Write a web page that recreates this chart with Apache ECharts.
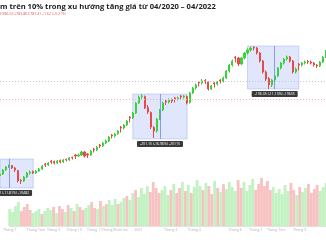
<!DOCTYPE html>
<html><head><meta charset="utf-8">
<script src="https://cdn.jsdelivr.net/npm/echarts@6/dist/echarts.min.js"></script>
<style>html,body{margin:0;padding:0;background:#fff}#c{width:326px;height:245px}</style>
</head><body><div id="c"></div>
<script>
const titleText = 'm trên 10% trong xu hướng tăng giá từ 04/2020 – 04/2022';
const quoteText = 'H786.55 L783.86 C787.41 +1.62 (+0.21%)';

// [open, close, low, high] per 3-session bucket
const ohlc = [
[818,824,814,828],[824,840,820,844],[840,852,836,856],[852,856,848,862],[858,848,844,860],
[848,840,832,852],[838,796,790,840],[798,796,784,804],[796,812,792,816],[812,828,808,832],
[828,832,822,838],[834,828,824,838],[828,836,824,840],[836,844,832,848],[844,856,840,860],
[864,860,852,868],[860,868,856,872],[876,872,864,880],[874,868,862,878],[868,876,864,880],
[878,872,866,882],[872,880,868,884],[882,880,874,886],[880,888,876,892],[890,888,882,894],
[900,896,884,904],[896,900,892,906],[900,912,896,916],[912,896,890,916],[904,900,888,908],
[900,916,896,920],[924,920,910,928],[920,932,916,936],[940,936,928,944],[936,948,932,952],
[948,956,944,962],[956,972,952,976],[980,976,966,984],[976,984,970,988],[986,996,980,1000],
[1012,1008,990,1016],[1008,1020,1002,1024],[1020,1036,1016,1040],[1052,1048,1030,1056],[1048,1068,1044,1072],
[1068,1108,1064,1112],[1108,1132,1104,1138],[1134,1136,1124,1144],[1134,1088,1084,1138],[1090,1072,1064,1100],
[1070,1012,1004,1074],[1010,996,968,1016],[996,1044,990,1048],[1044,1080,1040,1084],[1080,1108,1076,1114],
[1116,1112,1100,1120],[1112,1120,1106,1126],[1122,1116,1108,1126],[1128,1124,1110,1132],[1124,1128,1118,1134],
[1136,1132,1124,1140],[1132,1136,1126,1140],[1134,1108,1102,1138],[1110,1148,1106,1152],[1148,1168,1144,1172],
[1168,1180,1162,1186],[1192,1188,1174,1196],[1188,1196,1182,1204],[1198,1192,1184,1204],[1192,1164,1158,1194],
[1164,1176,1160,1180],[1188,1184,1170,1192],[1184,1192,1178,1196],[1200,1196,1186,1204],[1196,1208,1190,1214],
[1208,1236,1204,1240],[1236,1260,1230,1264],[1260,1276,1254,1282],[1292,1288,1270,1296],[1288,1264,1256,1292],
[1264,1288,1260,1292],[1288,1308,1282,1312],[1308,1320,1302,1326],[1320,1328,1314,1334],[1330,1328,1318,1336],
[1328,1308,1302,1332],[1308,1276,1270,1312],[1276,1232,1226,1280],[1232,1204,1196,1238],[1206,1180,1164,1212],
[1180,1200,1172,1204],[1200,1216,1194,1220],[1216,1248,1212,1252],[1248,1268,1242,1272],[1268,1284,1262,1288],
[1284,1292,1278,1298],[1292,1276,1270,1296],[1276,1232,1226,1280],[1232,1244,1226,1250],[1264,1260,1238,1268],
[1260,1268,1254,1272],[1268,1272,1262,1278],[1274,1272,1264,1280],[1272,1268,1262,1278],[1268,1260,1254,1272],
[1260,1256,1248,1264],[1256,1272,1252,1276],[1272,1292,1268,1296],[1292,1316,1288,1320]
];

const volume = [
340,280,400,480,300,380,440,320,260,300,340,240,300,360,
320,380,260,400,340,280,420,360,300,440,380,320,360,
420,480,360,340,500,400,440,520,420,540,440,480,560,
600,520,660,720,580,760,640,800,680,880,760,660,720,
800,620,720,840,660,760,880,700,820,660,780,920,800,
720,860,800,640,900,760,680,840,740,880,780,700,920,
760,880,700,820,940,720,840,960,800,900,720,780,660,
740,640,820,700,860,720,620,780,680,760,840,660,740,820,700,780,860
];

const tickIndex = [0, 9, 15, 22, 29, 36, 44, 55, 63, 77, 84, 91, 99];
const tickText = ['Tháng 7','Tháng Tám','Tháng 9','Tháng 10','Tháng 11','Tháng Mười hai','2021','Tháng 3','Tháng 4','Tháng 6','Tháng 7','Tháng Tám','Tháng 9'];

// drawdown ranges
const ddStart = [0, 44, 82];
const ddEnd = [11, 62, 99];
const ddLine = [3, 53, 91];
const ddHigh = [884, 1144, 1336];
const ddLow = [768, 964, 1164];
const ddLabel = ['-104.82 (-11.81%) -10482', '-201.15 (-16.96%) -20115', '-196.35 (-11.13%) -19635'];

const levelGray = 1196;
const levelRed = 1124;

const categories = ohlc.map((d, i) => String(i));
const UP = '#3ad13a', DOWN = '#e84a4a';

const chart = echarts.init(document.getElementById('c'), null, {renderer: 'canvas'});

const markAreaData = ddStart.map((s, k) => [
  {coord: [ddStart[k], ddHigh[k]]},
  {coord: [ddEnd[k], ddLow[k]]}
]);
const markLineData = ddStart.map((s, k) => [
  {coord: [ddLine[k], ddHigh[k]], label: {formatter: ddLabel[k]}},
  {coord: [ddLine[k], ddLow[k]]}
]);
markLineData.push({yAxis: levelGray, lineStyle: {color: '#c8c8c8', type: [1, 2], width: 1}, label: {show: false}});
markLineData.push({yAxis: levelRed, lineStyle: {color: '#f2b0b0', type: [1, 2], width: 1}, label: {show: false}});

const tickMap = {};
tickIndex.forEach((ix, k) => { tickMap[ix] = tickText[k]; });

chart.setOption({
  animation: false,
  backgroundColor: '#ffffff',
  title: [
    {text: titleText, left: 0, top: 3, padding: 0,
     textStyle: {fontSize: 7.6, fontWeight: 'bold', color: '#222', fontFamily: 'Open Sans'}},
    {text: quoteText, left: 0, top: 12, padding: 0,
     textStyle: {fontSize: 3.5, fontWeight: 'normal', color: '#e05555', fontFamily: 'Open Sans'}}
  ],
  grid: [
    {left: 0, right: 0, top: 20, bottom: 15},
    {left: 0, right: 0, top: 176, bottom: 19}
  ],
  xAxis: [
    {type: 'category', gridIndex: 0, data: categories, boundaryGap: false,
     axisLine: {show: false}, axisTick: {show: false}, axisLabel: {show: false}, splitLine: {show: false}},
    {type: 'category', gridIndex: 1, data: categories, boundaryGap: false,
     axisLine: {show: true, lineStyle: {color: '#e2e2e2', width: 1}}, axisTick: {show: false},
     axisLabel: {show: true, color: '#b5b5b5', fontSize: 3.6, margin: 2, fontFamily: 'Open Sans',
       interval: (i) => tickMap[i] !== undefined,
       formatter: (v, i) => tickMap[i] || ''},
     splitLine: {show: false}}
  ],
  yAxis: [
    {type: 'value', gridIndex: 0, min: 600, max: 1440, show: false, splitLine: {show: false}},
    {type: 'value', gridIndex: 1, min: 0, max: 1000, show: false, splitLine: {show: false}}
  ],
  series: [
    {
      type: 'bar', xAxisIndex: 1, yAxisIndex: 1, barWidth: 2.8,
      data: volume.map((v, i) => ({value: v, itemStyle: {color: ohlc[i][1] >= ohlc[i][0] ? 'rgba(110,225,110,0.42)' : 'rgba(238,110,110,0.42)'}}))
    },
    {
      type: 'candlestick', xAxisIndex: 0, yAxisIndex: 0, barWidth: 1.6,
      data: ohlc,
      itemStyle: {color: UP, color0: DOWN, borderColor: UP, borderColor0: DOWN, borderWidth: 1},
      markArea: {
        silent: true,
        itemStyle: {color: 'rgba(130,155,240,0.25)', borderColor: 'rgba(120,145,235,0.55)', borderWidth: 0.6},
        data: markAreaData
      },
      markLine: {
        silent: true, symbol: 'none', animation: false,
        lineStyle: {color: '#6f8ae6', width: 0.8, type: 'solid'},
        label: {show: true, position: 'end', distance: 2, color: '#fff', fontSize: 3.5,
                backgroundColor: '#3a3a3a', padding: [1, 3], borderRadius: 1, fontFamily: 'Open Sans'},
        data: markLineData
      }
    }
  ]
});
</script>
</body></html>
